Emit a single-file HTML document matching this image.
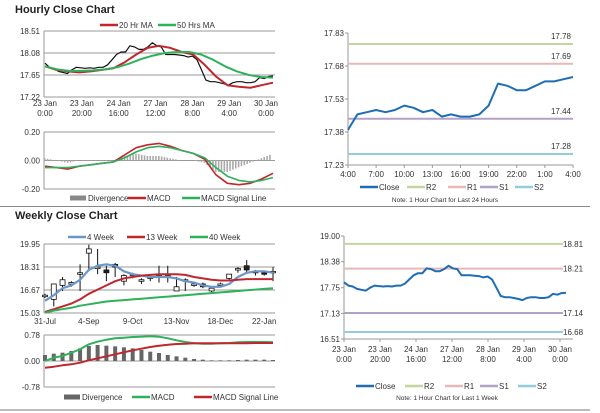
<!DOCTYPE html>
<html><head><meta charset="utf-8"><style>
body{margin:0;background:#fff;}
svg{display:block;font-family:"Liberation Sans",sans-serif;}
</style></head><body>
<svg id="s" width="600" height="413" viewBox="0 0 600 413" xmlns="http://www.w3.org/2000/svg">
<text x="15" y="13" font-size="11" font-weight="bold" fill="#222">Hourly Close Chart</text>
<text x="15" y="219" font-size="11" font-weight="bold" fill="#222">Weekly Close Chart</text>
<line x1="0" y1="206.5" x2="590" y2="206.5" stroke="#888" stroke-width="1"/>
<line x1="0" y1="410" x2="590" y2="410" stroke="#bbb" stroke-width="2"/>
<g id="g"></g>
</svg>
<script>
// ---- data ----
const hourCloseWeek = [17.88,17.80,17.78,17.72,17.70,17.68,17.75,17.80,17.79,17.78,17.79,17.78,17.80,17.80,17.85,17.95,18.05,18.10,18.10,18.22,18.20,18.15,18.15,18.20,18.28,18.22,18.20,18.05,18.05,18.05,18.04,18.03,18.00,18.02,17.95,17.75,17.55,17.52,17.52,17.50,17.48,17.45,17.50,17.52,17.52,17.50,17.50,17.52,17.60,17.58,17.62,17.63];
const ma20 = [17.82,17.75,17.72,17.70,17.72,17.75,17.78,17.90,18.05,18.18,18.22,18.18,18.10,18.05,17.85,17.62,17.45,17.42,17.40,17.45,17.50];
const ma50 = [17.82,17.76,17.73,17.73,17.74,17.76,17.80,17.87,17.96,18.03,18.08,18.10,18.10,18.05,17.95,17.82,17.72,17.65,17.61,17.60];
const hMacd = [-0.04,-0.05,-0.06,-0.04,-0.03,-0.02,-0.01,0.04,0.09,0.11,0.12,0.10,0.07,0.05,0.01,-0.10,-0.16,-0.17,-0.16,-0.13,-0.09];
const hSignal = [-0.05,-0.05,-0.05,-0.04,-0.03,-0.02,-0.01,0.02,0.06,0.09,0.10,0.09,0.07,0.05,0.02,-0.05,-0.11,-0.14,-0.15,-0.14,-0.12];
const hTicks = [["23 Jan","0:00"],["23 Jan","20:00"],["24 Jan","16:00"],["27 Jan","12:00"],["28 Jan","8:00"],["29 Jan","4:00"],["30 Jan","0:00"]];
const dayClose = [17.39,17.46,17.47,17.48,17.47,17.48,17.50,17.49,17.47,17.48,17.45,17.46,17.45,17.45,17.46,17.50,17.60,17.59,17.57,17.57,17.59,17.61,17.61,17.62,17.63];
const dayTicks = ["4:00","7:00","10:00","13:00","16:00","19:00","22:00","1:00","4:00"];
const dayLevels = [17.78,17.69,17.44,17.28];
const weekLevels = [18.81,18.21,17.14,16.68];
const wOpen  = [16.2,16.0,17.0,17.1,17.8,19.3,18.2,18.1,18.5,17.3,17.7,17.3,17.5,17.6,17.6,16.6,17.3,17.0,17.1,16.6,17.0,17.5,18.1,18.4,17.9,17.9,17.9];
const wClose = [16.3,17.1,17.4,17.2,17.9,19.6,18.3,17.9,18.3,17.7,17.8,17.4,17.6,17.7,17.7,16.9,17.4,17.1,16.9,16.8,17.1,17.8,18.2,18.1,18.0,17.8,18.0];
const wHigh  = [16.4,17.1,17.6,17.3,18.5,19.9,19.6,18.4,18.6,17.8,17.9,17.5,17.7,18.4,18.4,17.6,17.5,17.2,17.2,16.9,17.2,17.8,18.3,18.8,18.1,18.0,18.3];
const wLow   = [16.1,15.5,16.6,16.9,16.6,18.0,17.8,17.3,17.6,17.0,17.5,17.1,17.3,17.2,17.2,16.6,16.6,16.9,16.8,16.5,16.9,17.4,17.9,17.9,17.7,17.7,17.3];
const ma4w  = [15.9,16.3,16.8,17.0,17.4,18.1,18.4,18.5,18.4,18.0,17.8,17.7,17.6,17.6,17.6,17.5,17.3,17.2,17.0,16.9,16.9,17.1,17.6,17.9,18.0,18.0,17.9];
const ma13w = [15.1,15.3,15.5,15.7,16.0,16.4,16.7,17.0,17.3,17.5,17.6,17.7,17.75,17.8,17.8,17.8,17.75,17.6,17.5,17.4,17.35,17.35,17.4,17.45,17.45,17.45,17.45];
const ma40w = [15.05,15.2,15.3,15.4,15.55,15.65,15.75,15.85,15.9,15.95,16.0,16.05,16.1,16.15,16.2,16.25,16.3,16.35,16.4,16.45,16.5,16.55,16.6,16.65,16.7,16.75,16.8];
const wMacd = [0.0,0.1,0.15,0.25,0.35,0.5,0.58,0.64,0.68,0.7,0.72,0.73,0.74,0.73,0.68,0.62,0.57,0.53,0.52,0.52,0.53,0.54,0.56,0.57,0.57,0.57,0.56];
const wSignal = [-0.2,-0.17,-0.13,-0.1,-0.05,0.02,0.08,0.14,0.2,0.26,0.32,0.37,0.42,0.46,0.49,0.51,0.52,0.53,0.53,0.53,0.53,0.53,0.53,0.53,0.54,0.54,0.54];
const wDiv = [0.18,0.22,0.25,0.3,0.38,0.45,0.48,0.46,0.44,0.41,0.38,0.33,0.28,0.24,0.18,0.14,0.1,0.06,0.04,0.02,0.02,0.02,0.03,0.04,0.04,0.04,0.03];
const wTicks = ["31-Jul","4-Sep","9-Oct","13-Nov","18-Dec","22-Jan"];

const NS="http://www.w3.org/2000/svg", G=document.getElementById('g');
function el(tag,attrs,parent){const e=document.createElementNS(NS,tag);for(const k in attrs)e.setAttribute(k,attrs[k]);(parent||G).appendChild(e);return e;}
function txt(x,y,s,size,anchor,fill){const t=el('text',{x:x,y:y,'font-size':size||8,'text-anchor':anchor||'start',fill:fill||'#333'});t.textContent=s;return t;}
function lin(a,b,c,d){return v=>c+(v-a)*(d-c)/(b-a);}
function path(vals,xf,yf,color,w){let d='';vals.forEach((v,i)=>{d+=(i?'L':'M')+xf(i).toFixed(1)+','+yf(v).toFixed(1);});return el('path',{d:d,fill:'none',stroke:color,'stroke-width':w||2,'stroke-linejoin':'round'});}
function grid(x0,x1,yf,ticks,labels){ticks.forEach((t,i)=>{el('line',{x1:x0,x2:x1,y1:yf(t),y2:yf(t),stroke:'#999','stroke-width':1});const l=txt(x0-4,yf(t)+3,labels[i],8,'end');});}
function vaxis(x,y0,y1){el('line',{x1:x,x2:x,y1:y0,y2:y1,stroke:'#999','stroke-width':1});}
function legLine(x,y,color,label,w){const l=el('line',{x1:x,x2:x+18,y1:y,y2:y,stroke:color,'stroke-width':w||2.5});


txt(x+19,y+3,label,8);}
function legBox(x,y,color,label){el('rect',{x:x,y:y-2.5,width:16,height:5,fill:color});txt(x+18,y+3,label,8);}

const RED='#c0272d',GREEN='#2fb05a',BLUE='#1f6db3',LBLUE='#6a96c8',R2='#c3d69b',R1='#e6b9b8',S1='#b3a2c7',S2='#93cddd';

// ---- Panel 1: hourly close ----
{const y=lin(17.22,18.51,97,31);const X0=44,X1=275;
grid(X0,X1,y,[17.22,17.65,18.08,18.51],["17.22","17.65","18.08","18.51"]);vaxis(X0,31,97);
const xc=lin(0,hourCloseWeek.length-1,45,273);
const p=path(hourCloseWeek,xc,y,'#111',1.2);


const m2=path(ma20,lin(0,ma20.length-1,45,273),y,RED,2);


const m5=path(ma50,lin(0,ma50.length-1,45,273),y,GREEN,2);


const tx=lin(0,6,45,266);hTicks.forEach((t,i)=>{txt(tx(i),106,t[0],8,'middle');txt(tx(i),116,t[1],8,'middle');});
legLine(100,25,RED,'20 Hr MA');legLine(158,25,GREEN,'50 Hrs MA');
// MACD
const ym=lin(-0.2,0.2,189,132);grid(X0,X1,ym,[-0.2,0,0.2],["-0.20","0.00","0.20"]);vaxis(X0,132,189);
const xm=lin(0,hMacd.length-1,45,273);
for(let i=0;i<hMacd.length-1;i++){for(let k=0;k<4;k++){const f=k/4;const d=(hMacd[i]*(1-f)+hMacd[i+1]*f)-(hSignal[i]*(1-f)+hSignal[i+1]*f);const xx=xm(i+f);const b=el('rect',{x:xx-1,y:Math.min(ym(0),ym(d*1.6)),width:1.6,height:Math.abs(ym(d*1.6)-ym(0)),fill:'#aaa'});

}}
const mc=path(hMacd,xm,ym,RED,1.6);


const sg=path(hSignal,xm,ym,GREEN,1.6);


legBox(70,198,'#888','Divergence');legLine(128,198,RED,'MACD');legLine(182,198,GREEN,'MACD Signal Line');}

// ---- Panel 2: 24h close with levels ----
{const y=lin(17.23,17.83,165,33);const X0=348,X1=573;
vaxis(X0,33,165);el('line',{x1:X0,x2:X1,y1:165,y2:165,stroke:'#999'});
[17.23,17.38,17.53,17.68,17.83].forEach(t=>{el('line',{x1:X0-3,x2:X0,y1:y(t),y2:y(t),stroke:'#999'});txt(X0-4,y(t)+3,t.toFixed(2),8,'end');});
const cols=[R2,R1,S1,S2];dayLevels.forEach((v,i)=>{const l=el('line',{x1:X0,x2:X1,y1:y(v),y2:y(v),stroke:cols[i],'stroke-width':2});


txt(X1-2,y(v)-5,v.toFixed(2),8,'end');});
const x=lin(0,dayClose.length-1,X0,X1);
const p=path(dayClose,x,y,BLUE,2);


const tx=lin(0,dayTicks.length-1,X0,X1);dayTicks.forEach((t,i)=>{el('line',{x1:tx(i),x2:tx(i),y1:165,y2:168,stroke:'#999'});txt(tx(i),177,t,8,'middle');});
legLine(360,187,BLUE,'Close');legLine(407,187,R2,'R2');legLine(448,187,R1,'R1');legLine(480,187,S1,'S1');legLine(515,187,S2,'S2');
txt(445,202,'Note: 1 Hour Chart for Last 24 Hours',6.5,'middle');}

// ---- Panel 3: weekly candles ----
{const y=lin(15.03,19.95,313,244);const X0=44,X1=275;
grid(X0,X1,y,[15.03,16.67,18.31,19.95],["15.03","16.67","18.31","19.95"]);vaxis(X0,244,313);
const x=lin(0,26,45,273);
wOpen.forEach((o,i)=>{const c=wClose[i];el('line',{x1:x(i),x2:x(i),y1:y(wHigh[i]),y2:y(wLow[i]),stroke:'#111','stroke-width':1});
const r=el('rect',{x:x(i)-2.5,y:y(Math.max(o,c)),width:5,height:Math.max(1.5,Math.abs(y(o)-y(c))),fill:c>=o?'#fff':'#222',stroke:'#111','stroke-width':0.8});

});
const a=path(ma4w,x,y,LBLUE,2.2);


const b=path(ma13w,x,y,RED,2);


const c=path(ma40w,x,y,GREEN,2);


const tx=[0,5,10,15,20,25];wTicks.forEach((t,i)=>txt(x(tx[i]),324,t,8,'middle'));
legLine(68,237,LBLUE,'4 Week');legLine(127,237,RED,'13 Week');legLine(190,237,GREEN,'40 Week');
const ym=lin(-0.78,0.78,387,335);grid(X0,X1,ym,[-0.78,0,0.78],["-0.78","0.00","0.78"]);vaxis(X0,335,387);
wDiv.forEach((d,i)=>{const r=el('rect',{x:x(i)-2,y:ym(d),width:4,height:ym(0)-ym(d),fill:'#666'});

});
const m=path(wMacd,x,ym,GREEN,2);


const s=path(wSignal,x,ym,RED,2);


legBox(64,397,'#666','Divergence');legLine(132,397,GREEN,'MACD');legLine(194,397,RED,'MACD Signal Line');}

// ---- Panel 4: 1 week hourly close ----
{const y=lin(16.51,19.00,339,236);const X0=344,X1=573;
vaxis(X0,236,339);el('line',{x1:X0,x2:X1,y1:339,y2:339,stroke:'#999'});
[16.51,17.13,17.75,18.38,19.00].forEach(t=>{el('line',{x1:X0-3,x2:X0,y1:y(t),y2:y(t),stroke:'#999'});txt(X0-4,y(t)+3,t.toFixed(2),8,'end');});
const cols=[R2,R1,S1,S2];weekLevels.forEach((v,i)=>{const l=el('line',{x1:X0,x2:X1-10,y1:y(v),y2:y(v),stroke:cols[i],'stroke-width':2});


txt(563,y(v)+3,v.toFixed(2),8,'start');});
const x=lin(0,hourCloseWeek.length-1,X0,566);
const p=path(hourCloseWeek,x,y,BLUE,2);


const tx=lin(0,6,X0,560);hTicks.forEach((t,i)=>{el('line',{x1:tx(i),x2:tx(i),y1:339,y2:342,stroke:'#999'});txt(tx(i),352,t[0],8,'middle');txt(tx(i),362,t[1],8,'middle');});
legLine(356,386,BLUE,'Close');legLine(405,386,R2,'R2');legLine(445,386,R1,'R1');legLine(480,386,S1,'S1');legLine(518,386,S2,'S2');
txt(447,400,'Note: 1 Hour Chart for Last 1 Week',6.5,'middle');}
</script>
</body></html>
